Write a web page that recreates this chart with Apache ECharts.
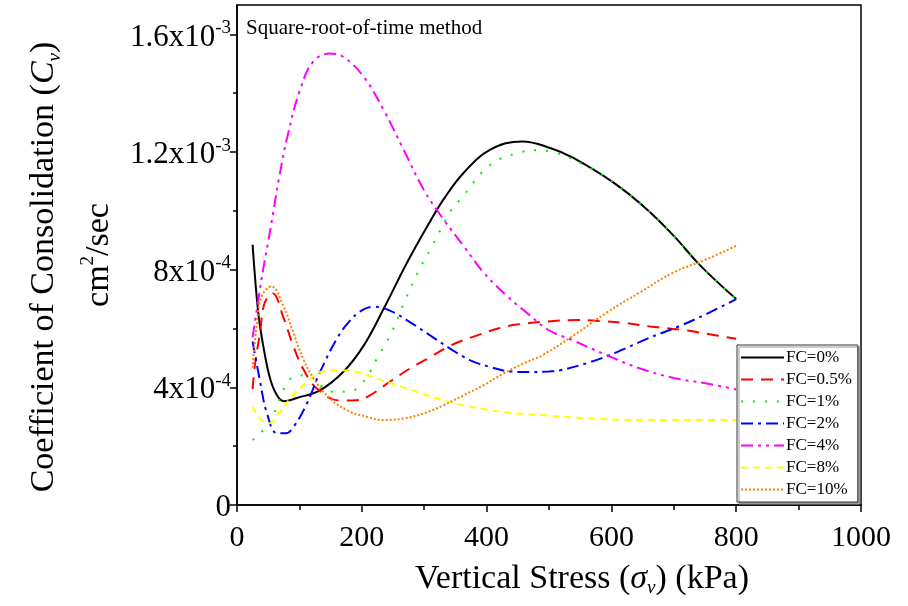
<!DOCTYPE html>
<html>
<head>
<meta charset="utf-8">
<script src="https://cdn.jsdelivr.net/npm/echarts@6/dist/echarts.min.js"></script>
<style>html,body{margin:0;padding:0;background:#fff}#c{width:908px;height:606px}</style>
</head>
<body>
<div id="c"></div>
<script>
// Vertical stress (kPa) vs Cv (cm^2/sec)
const fc0 = [[25,8.85e-4],[34,6.55e-4],[42,5.42e-4],[53,4.30e-4],[64,3.73e-4],[75,3.53e-4],[96,3.64e-4],[133,3.90e-4],[170,4.52e-4],[203,5.42e-4],[235,6.67e-4],[272,8.22e-4],[310,9.66e-4],[331,10.39e-4],[363,11.29e-4],[406,12.08e-4],[457,12.36e-4],[502,12.14e-4],[539,11.80e-4],[604,10.95e-4],[657,10.05e-4],[700,9.15e-4],[743,8.13e-4],[800,7.00e-4]];
const fc05 = [[25,3.94e-4],[29,4.80e-4],[37,5.88e-4],[44,6.85e-4],[57,7.20e-4],[74,6.40e-4],[90,5.42e-4],[106,4.63e-4],[128,3.96e-4],[165,3.55e-4],[192,3.56e-4],[213,3.73e-4],[245,4.19e-4],[277,4.64e-4],[310,5.03e-4],[342,5.42e-4],[384,5.76e-4],[427,6.05e-4],[459,6.16e-4],[497,6.24e-4],[545,6.29e-4],[593,6.24e-4],[625,6.18e-4],[662,6.07e-4],[711,5.96e-4],[753,5.82e-4],[800,5.65e-4]];
const fc1 = [[25,2.21e-4],[45,2.61e-4],[58,3.06e-4],[77,4.02e-4],[93,4.38e-4],[114,4.41e-4],[133,4.07e-4],[155,3.85e-4],[176,3.85e-4],[192,3.96e-4],[213,4.52e-4],[224,4.97e-4],[248,5.88e-4],[267,6.84e-4],[291,7.96e-4],[310,8.70e-4],[344,10.05e-4],[358,10.39e-4],[406,11.57e-4],[454,11.99e-4],[481,12.06e-4],[502,12.02e-4],[566,11.46e-4],[604,10.95e-4],[657,10.05e-4],[700,9.15e-4],[743,8.13e-4],[800,7.00e-4]];
const fc2 = [[25,5.56e-4],[37,4.20e-4],[48,3.12e-4],[64,2.44e-4],[78,2.44e-4],[92,2.70e-4],[112,3.45e-4],[133,4.52e-4],[160,5.65e-4],[179,6.22e-4],[200,6.62e-4],[219,6.74e-4],[245,6.61e-4],[277,6.22e-4],[310,5.76e-4],[342,5.31e-4],[374,4.92e-4],[406,4.69e-4],[438,4.54e-4],[470,4.52e-4],[500,4.54e-4],[518,4.58e-4],[566,4.86e-4],[609,5.20e-4],[657,5.65e-4],[711,6.10e-4],[753,6.50e-4],[800,7.00e-4]];
const fc4 = [[25,5.70e-4],[34,6.95e-4],[42,8.02e-4],[50,8.95e-4],[58,9.94e-4],[67,11.07e-4],[82,12.64e-4],[101,14.11e-4],[122,15.07e-4],[149,15.35e-4],[170,15.24e-4],[203,14.56e-4],[235,13.43e-4],[267,12.08e-4],[299,10.73e-4],[331,9.71e-4],[363,8.81e-4],[395,7.91e-4],[432,7.12e-4],[470,6.44e-4],[499,5.95e-4],[539,5.59e-4],[593,5.09e-4],[646,4.64e-4],[700,4.32e-4],[753,4.13e-4],[800,3.93e-4]];
const fc8 = [[25,3.34e-4],[37,2.94e-4],[50,2.77e-4],[69,3.17e-4],[85,3.62e-4],[106,4.07e-4],[138,4.54e-4],[165,4.58e-4],[192,4.52e-4],[224,4.30e-4],[256,4.07e-4],[288,3.85e-4],[320,3.62e-4],[363,3.39e-4],[406,3.22e-4],[449,3.11e-4],[499,3.04e-4],[566,2.94e-4],[646,2.89e-4],[727,2.89e-4],[800,2.89e-4]];
const fc10 = [[25,4.66e-4],[32,6.20e-4],[40,7.12e-4],[55,7.43e-4],[74,6.78e-4],[90,5.88e-4],[106,4.97e-4],[123,4.30e-4],[144,3.73e-4],[176,3.22e-4],[208,3.00e-4],[235,2.89e-4],[267,2.94e-4],[299,3.11e-4],[331,3.39e-4],[363,3.73e-4],[395,4.07e-4],[427,4.47e-4],[459,4.81e-4],[490,5.10e-4],[539,5.76e-4],[593,6.55e-4],[646,7.23e-4],[700,7.91e-4],[753,8.36e-4],[800,8.81e-4]];

const seriesNames = ['FC=0%','FC=0.5%','FC=1%','FC=2%','FC=4%','FC=8%','FC=10%'];
const seriesData = [fc0, fc05, fc1, fc2, fc4, fc8, fc10];
const seriesColors = ['#000000','#ff0000','#00ee00','#0000ff','#ff00ff','#ffff00','#ff8000'];
const seriesDash = ['solid',[12,8],[2,10],[12,5,3,5],[12,5,3,5,3,5],[7,5],[2,2]];

const yMajor = [0, 4e-4, 8e-4, 12e-4, 16e-4];
const yMinor = [2e-4, 6e-4, 10e-4, 14e-4];
const yLabels = {0:'{a|0}', 4:'{a|4x10}{s|-4}', 8:'{a|8x10}{s|-4}', 12:'{a|1.2x10}{s|-3}', 16:'{a|1.6x10}{s|-3}'};

const serif = 'Liberation Serif';
const chart = echarts.init(document.getElementById('c'), null, {renderer:'canvas'});

const series = seriesNames.map((n,i)=>({
  name:n, type:'line', data:seriesData[i], smooth:0.4, symbol:'none',
  lineStyle:{color:seriesColors[i], width:2, type:seriesDash[i]},
  itemStyle:{color:seriesColors[i]}
}));
series.push({type:'line', yAxisIndex:1, data:[], silent:true});

chart.setOption({
  animation:false,
  backgroundColor:'#fff',
  title:{text:'Square-root-of-time method', left:241, top:13,
    textStyle:{fontFamily:serif, fontSize:21, fontWeight:'normal', color:'#000'}},
  grid:{left:237, right:47, top:5, bottom:99, show:true, borderColor:'#000', borderWidth:1.5, backgroundColor:'transparent'},
  legend:{orient:'vertical', left:737, top:345, itemWidth:43, itemHeight:12, itemGap:5,
    padding:[4,6,4,3], backgroundColor:'#fff', borderColor:'#333', borderWidth:1,
    shadowColor:'#999', shadowOffsetX:2, shadowOffsetY:2, shadowBlur:0,
    itemStyle:{opacity:0},
    textStyle:{fontFamily:serif, fontSize:17, color:'#000', padding:[0,0,0,-3]},
    data:seriesNames},
  xAxis:{type:'value', min:0, max:1000, interval:200,
    axisLine:{lineStyle:{color:'#000', width:1.5}},
    axisTick:{length:7, lineStyle:{color:'#000', width:1.5}},
    minorTick:{show:true, splitNumber:2, length:5, lineStyle:{color:'#000', width:1.5}},
    splitLine:{show:false},
    axisLabel:{fontFamily:serif, fontSize:30, color:'#000', margin:18, formatter:v=>String(v)},
    name:'{t0|Vertical Stress (}{i|σ}{sub|v}{t|) (kPa)}', nameLocation:'middle', nameGap:52,
    nameTextStyle:{rich:{
      t0:{fontFamily:serif, fontSize:34, color:'#000', lineHeight:44, padding:[0,0,0,66]},
      t:{fontFamily:serif, fontSize:34, color:'#000', lineHeight:44},
      i:{fontFamily:serif, fontSize:34, fontStyle:'italic', color:'#000', lineHeight:44},
      sub:{fontFamily:serif, fontSize:19, fontStyle:'italic', color:'#000', lineHeight:30, verticalAlign:'bottom', padding:[0,0,4,0]}
    }}},
  yAxis:[{type:'value', min:0, max:17e-4,
    axisLine:{lineStyle:{color:'#000', width:1.5}},
    axisTick:{length:7, customValues:yMajor, lineStyle:{color:'#000', width:1.5}},
    splitLine:{show:false},
    axisLabel:{customValues:yMajor, margin:6,
      formatter:v=>yLabels[Math.round(v*1e4)] || '',
      rich:{a:{fontFamily:serif, fontSize:31, color:'#000', lineHeight:36, padding:[6,0,0,0]},
            s:{fontFamily:serif, fontSize:19, color:'#000', lineHeight:22, verticalAlign:'top', padding:[2,0,0,0]}},
      fontFamily:serif, fontSize:31, color:'#000'},
    name:'{t|Coefficient of Consolidation (}{i|C}{sub|v}{t1|)}\n{t|cm}{sup|2}{t|/sec}',
    nameLocation:'middle', nameRotate:90, nameGap:110,
    nameTextStyle:{align:'center', rich:{
      t:{fontFamily:serif, fontSize:34, color:'#000', lineHeight:55},
      t1:{fontFamily:serif, fontSize:34, color:'#000', lineHeight:55, padding:[0,24,0,0]},
      i:{fontFamily:serif, fontSize:34, fontStyle:'italic', color:'#000', lineHeight:55},
      sub:{fontFamily:serif, fontSize:19, fontStyle:'italic', color:'#000', lineHeight:40, verticalAlign:'bottom', padding:[0,0,8,0]},
      sup:{fontFamily:serif, fontSize:19, color:'#000', lineHeight:44, verticalAlign:'top', padding:[7,0,0,0]}
    }}},
   {type:'value', min:0, max:17e-4, position:'left',
    axisLine:{show:false}, splitLine:{show:false}, axisLabel:{show:false},
    axisTick:{show:true, length:4, customValues:yMinor, lineStyle:{color:'#000', width:1.5}}}],
  series:series
});
</script>
</body>
</html>
